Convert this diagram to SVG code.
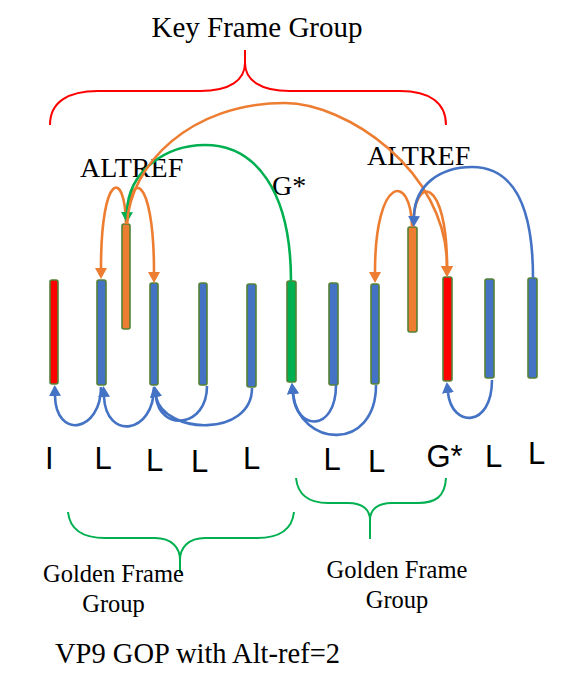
<svg xmlns="http://www.w3.org/2000/svg" width="567" height="690" viewBox="0 0 567 690">
<defs>
<style>
.serif{font-family:"Liberation Serif","Times New Roman",serif;fill:#000}
.sans{font-family:"Liberation Sans",Arial,sans-serif;font-size:31px;fill:#000}
.bar{stroke:#548235;stroke-width:1.6}
.red{fill:#FF0000}.blue{fill:#4472C4}.orange{fill:#ED7D31}.green{fill:#00B050}
.c{fill:none;stroke-width:2.6}
.co{stroke:#ED7D31;marker-end:url(#ao)}
.cg{stroke:#00B050;marker-end:url(#ag)}
.cb{stroke:#4472C4;marker-end:url(#ab)}
.brace{fill:none;stroke-width:2}
</style>
<marker id="ao" markerUnits="userSpaceOnUse" viewBox="0 0 11 12" markerWidth="11" markerHeight="12" refX="0" refY="6" orient="auto"><path d="M0,0 L11,6 L0,12 z" fill="#ED7D31"/></marker>
<marker id="ag" markerUnits="userSpaceOnUse" viewBox="0 0 11 12" markerWidth="11" markerHeight="12" refX="0" refY="6" orient="auto"><path d="M0,0 L11,6 L0,12 z" fill="#00B050"/></marker>
<marker id="ab" markerUnits="userSpaceOnUse" viewBox="0 0 11 12" markerWidth="11" markerHeight="12" refX="0" refY="6" orient="auto"><path d="M0,0 L11,6 L0,12 z" fill="#4472C4"/></marker>
</defs>
<rect width="567" height="690" fill="#fff"/>

<g id="key-frame-group">
<text class="serif" x="151.5" y="37" font-size="29">Key Frame Group</text>
<path class="brace" stroke="#FF0000" d="M50,125 C50,102 68,91 98,91 L200,91 C230,91 245,80 245,63 L245,50 M245,63 C245,80 260,91 290,91 L400,91 C430,91 446,103 446,125"/>
</g>

<g id="labels-top">
<text class="serif" x="80" y="177" font-size="28">ALTREF</text>
<text class="serif" x="367" y="165" font-size="28">ALTREF</text>
<text class="serif" x="272" y="195" font-size="28">G*</text>
</g>

<g id="frames">
<g id="f1"><rect class="bar red" x="50" y="280" width="8" height="104" rx="2"/><text class="sans" x="45" y="469">I</text></g>
<g id="f2"><rect class="bar blue" x="97" y="280" width="9" height="105" rx="2"/><text class="sans" x="94.5" y="469">L</text></g>
<g id="alt1"><rect class="bar orange" x="122" y="224" width="8" height="105" rx="2"/></g>
<g id="f3"><rect class="bar blue" x="150" y="283" width="8" height="102" rx="2"/><text class="sans" x="146" y="471">L</text></g>
<g id="f4"><rect class="bar blue" x="199" y="283" width="8" height="102" rx="2"/><text class="sans" x="191" y="472">L</text></g>
<g id="f5"><rect class="bar blue" x="247" y="284" width="9" height="103" rx="2"/><text class="sans" x="243" y="469">L</text></g>
<g id="f6"><rect class="bar green" x="287" y="281" width="9" height="101" rx="2"/></g>
<g id="f7"><rect class="bar blue" x="329" y="283" width="9" height="102" rx="2"/><text class="sans" x="323.5" y="470">L</text></g>
<g id="f8"><rect class="bar blue" x="371" y="284" width="8" height="100" rx="2"/><text class="sans" x="368" y="472">L</text></g>
<g id="alt2"><rect class="bar orange" x="408" y="227" width="9" height="105" rx="2"/></g>
<g id="f9"><rect class="bar red" x="443" y="277" width="9" height="104" rx="2"/><text class="sans" x="426.5" y="467">G*</text></g>
<g id="f10"><rect class="bar blue" x="485" y="279" width="9" height="99" rx="2"/><text class="sans" x="485" y="467">L</text></g>
<g id="f11"><rect class="bar blue" x="528" y="278" width="9" height="100" rx="2"/><text class="sans" x="528" y="464">L</text></g>
</g>

<g id="connectors">
<path class="c co" d="M126,224 C125,168 101,172 101,268"/>
<path class="c co" d="M127,224 C128,168 154,172 154,272"/>
<path class="c cg" d="M291,281 C291,190 255,145 205,145 C165,145 128,172 127,212"/>
<path class="c co" d="M127,224 C130,165 190,103 285,103 C345,103 447,170 447,266"/>
<path class="c co" d="M412,227 C411,172 375,175 375,272"/>
<path class="c co" d="M413,227 C414,172 447,178 447,266"/>
<path class="c cb" d="M533,278 C533,200 510,167 472,167 C440,167 415,185 414,216"/>
<path class="c cb" stroke-width="3" d="M101,387 C101,432 56,440 55,396"/>
<path class="c cb" stroke-width="3" d="M154,387 C154,435 106,440 104,397"/>
<path class="c cb" stroke-width="3" d="M207,386 C207,428 160,432 156,397"/>
<path class="c cb" stroke-width="3" d="M252,388 C252,437 165,435 156,397"/>
<path class="c cb" stroke-width="3" d="M336,385 C336,432 296,432 293,394"/>
<path class="c cb" stroke-width="3" d="M376,385 C376,452 300,448 293,394"/>
<path class="c cb" stroke-width="3" d="M492,380 C492,428 452,428 448,393"/>
</g>

<g id="golden-group-1">
<path class="brace" stroke="#00B050" d="M68,512 C70,531 85,538 105,538 L155,538 C172,538 180,548 180,560 L180,573 M180,560 C180,548 188,538 205,538 L257,538 C277,538 292,531 294,512"/>
<text class="serif" x="113.5" y="582" font-size="24.5" text-anchor="middle">Golden Frame</text>
<text class="serif" x="113.5" y="612" font-size="24.5" text-anchor="middle">Group</text>
</g>

<g id="golden-group-2">
<path class="brace" stroke="#00B050" d="M296,478 C298,497 312,503 328,503 L348,503 C363,503 370,510 370,520 L370,539 M370,520 C370,510 377,503 392,503 L418,503 C435,503 445,497 446,478"/>
<text class="serif" x="397" y="578" font-size="24.5" text-anchor="middle">Golden Frame</text>
<text class="serif" x="397" y="608" font-size="24.5" text-anchor="middle">Group</text>
</g>

<text id="caption" class="serif" x="55" y="663" font-size="28.5">VP9 GOP with Alt-ref=2</text>
</svg>
